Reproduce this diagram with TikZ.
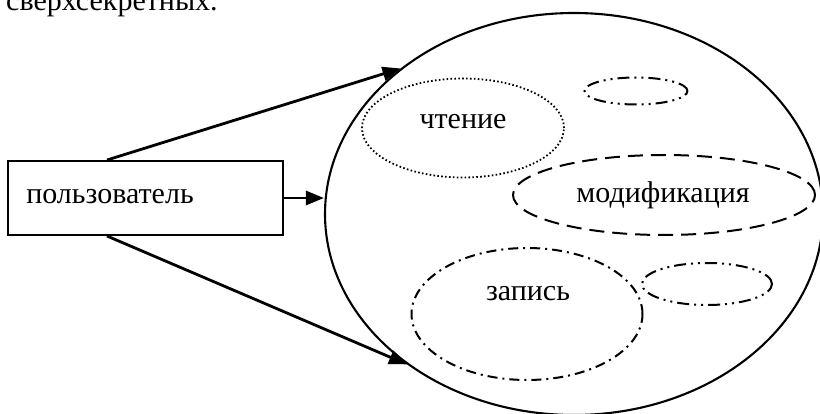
\documentclass[tikz,border=0pt]{standalone}
\usepackage{fontspec}
\setmainfont{Liberation Serif}
\usetikzlibrary{arrows.meta,shapes.geometric,calc}
\tikzset{
  txt/.style={font=\fontsize{30}{35}\selectfont, inner sep=0pt},
  ell/.style={ellipse, draw, line width=1.9pt, inner sep=0pt},
  dotline/.style={line width=1.8pt, dash pattern=on 1.6pt off 2.3pt},
  dashline/.style={line width=2pt, dash pattern=on 15pt off 8pt},
  dashdot/.style={line width=2pt, dash pattern=on 10pt off 5pt on 2pt off 5pt},
  dashdotdot/.style={line width=2pt, dash pattern=on 12pt off 5pt on 2pt off 5pt on 2pt off 5pt},
  arr/.style={line width=2.8pt, -{Triangle[length=18pt,width=14pt]}},
  userbox/.style={draw, line width=2pt, inner sep=0pt}
}
\begin{document}
\begin{tikzpicture}[x=1pt,y=-1pt]
\useasboundingbox (0,0) rectangle (820,414);
\node[txt, anchor=base west] (cap) at (6,11) {сверхсекретных.};
% user box
\node[userbox, minimum width=275pt, minimum height=74pt] (user) at (145.5,198) {};
\node[txt, anchor=base] (utext) at (110,204) {пользователь};
% big set ellipse
\node[ell, line width=2.1pt, minimum width=498pt, minimum height=402pt] (set) at (574,214) {};
% inner ellipses
\node[ell, dotline, minimum width=202pt, minimum height=99pt] (read) at (463,128) {};
\node[txt, anchor=base] (readt) at (463,129) {чтение};
\node[ell, dashdotdot, minimum width=103pt, minimum height=27pt] (e1) at (636,91) {};
\node[ell, dashline, minimum width=302pt, minimum height=80pt] (mod) at (664,195) {};
\node[txt, anchor=base] (modt) at (663,203) {модификация};
\node[ell, dashdot, minimum width=231pt, minimum height=132pt] (write) at (527,314) {};
\node[txt, anchor=base] (writet) at (528,301) {запись};
\node[ell, dashdotdot, minimum width=130pt, minimum height=42pt] (e2) at (707,284) {};
% arrows
\coordinate (ut) at ($(user.north west)+(100,0)$);
\coordinate (ub) at ($(user.south west)+(100,0)$);
\coordinate (mid) at (set.west |- user.east);
\draw[arr] (ut) -- (set.140);
\draw[arr] (user.east) -- (mid);
\draw[arr] (ub) -- (set.222);
\end{tikzpicture}
\end{document}
